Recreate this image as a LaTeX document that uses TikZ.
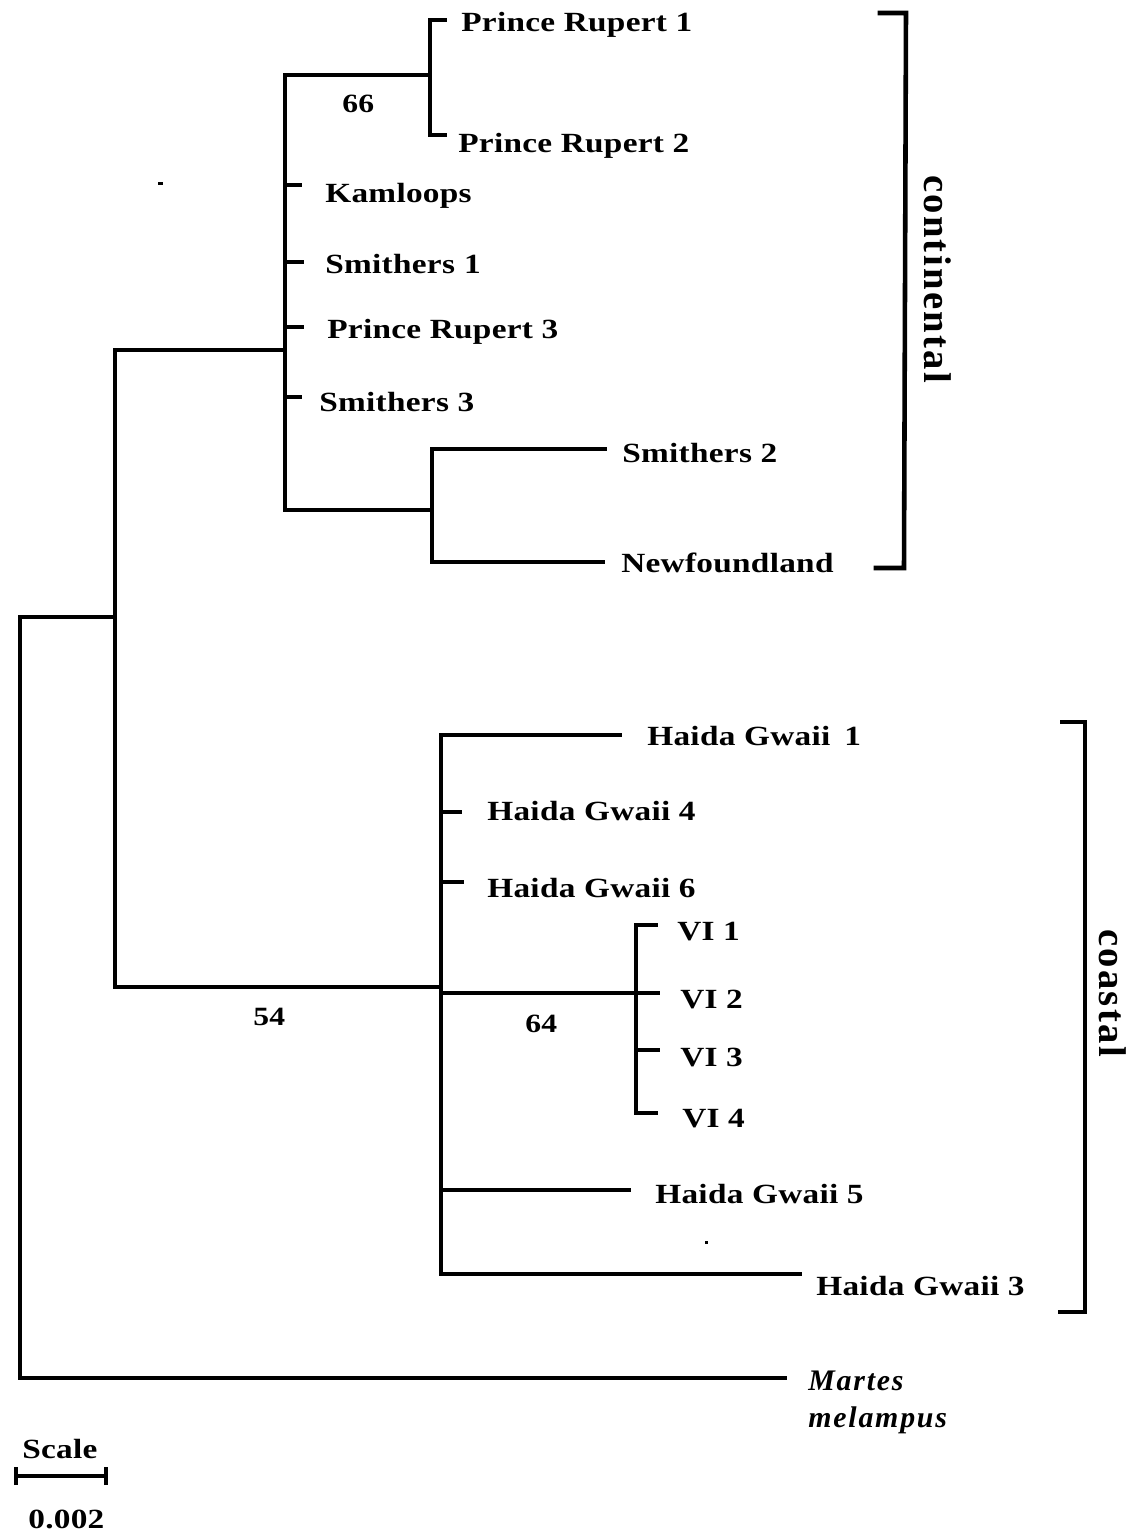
\documentclass[tikz,border=0pt]{standalone}
\usepackage{fontspec}
\setmainfont{Liberation Serif}
\newfontfamily\lsfont[LetterSpace=6]{Liberation Serif}
\newfontfamily\wfont[FakeStretch=1.2,LetterSpace=1]{Liberation Serif}
\begin{document}
\begin{tikzpicture}[x=0.02cm,y=-0.02cm,
  br/.style={line width=2.6pt,line cap=rect},
  lab/.style={anchor=base west,inner sep=0pt,font=\wfont\fontsize{15.8}{19}\selectfont\bfseries},
  sp/.style={anchor=base west,inner sep=0pt,font=\lsfont\fontsize{17}{20}\selectfont\bfseries\itshape},
  sup/.style={anchor=base west,inner sep=0pt,font=\wfont\fontsize{15}{18}\selectfont\bfseries},
  grp/.style={inner sep=0pt,rotate=-90,font=\lsfont\fontsize{22}{25}\selectfont\bfseries}]
\useasboundingbox (0,0) rectangle (1142,1536);
% internal nodes
\coordinate (r) at (20,617);
\coordinate (a) at (115,617);
\coordinate (b) at (285,350);
\coordinate (pr) at (430,75);
\coordinate (sn) at (432,510);
\coordinate (c) at (441,987);
\coordinate (vi) at (636,993);
% tips
\coordinate (tPR1) at (445,20);
\coordinate (tPR2) at (445,135);
\coordinate (tKam) at (300,185);
\coordinate (tSm1) at (302,262);
\coordinate (tPR3) at (302,327);
\coordinate (tSm3) at (300,397);
\coordinate (tSm2) at (605,449);
\coordinate (tNew) at (603,562);
\coordinate (tHG1) at (620,735);
\coordinate (tHG4) at (460,812);
\coordinate (tHG6) at (462,882);
\coordinate (tVI1) at (656,925);
\coordinate (tVI2) at (658,993);
\coordinate (tVI3) at (658,1050);
\coordinate (tVI4) at (656,1113);
\coordinate (tHG5) at (629,1190);
\coordinate (tHG3) at (800,1274);
\coordinate (tMar) at (785,1378);
% tree
\draw[br] (r) -- (r|-tMar) -- (tMar);
\draw[br] (r) -- (a);
\draw[br] (a|-b) -- (a|-c) -- (c);
\draw[br] (a|-b) -- (b);
\draw[br] (b) -- (b|-pr) -- (pr);
\draw[br] (b) -- (b|-sn) -- (sn);
\draw[br] (b|-tKam) -- (tKam);
\draw[br] (b|-tSm1) -- (tSm1);
\draw[br] (b|-tPR3) -- (tPR3);
\draw[br] (b|-tSm3) -- (tSm3);
\draw[br] (tPR1) -- (pr|-tPR1) -- (pr|-tPR2) -- (tPR2);
\draw[br] (sn|-tSm2) -- (sn|-tNew);
\draw[br] (sn|-tSm2) -- (tSm2);
\draw[br] (sn|-tNew) -- (tNew);
\draw[br] (c|-tHG1) -- (c|-tHG3) -- (tHG3);
\draw[br] (c|-tHG1) -- (tHG1);
\draw[br] (c|-tHG4) -- (tHG4);
\draw[br] (c|-tHG6) -- (tHG6);
\draw[br] (c|-vi) -- (tVI2);
\draw[br] (c|-tHG5) -- (tHG5);
\draw[br] (tVI1) -- (vi|-tVI1) -- (vi|-tVI4) -- (tVI4);
\draw[br] (vi|-tVI3) -- (tVI3);
% labels
\node[lab] (nPR1) at (461,31) {Prince Rupert 1};
\node[lab] (nPR2) at (458,152) {Prince Rupert 2};
\node[lab] (nKam) at (325,202) {Kamloops};
\node[lab] (nSm1) at (325,273) {Smithers\,\,1};
\node[lab] (nPR3) at (327,338) {Prince Rupert 3};
\node[lab] (nSm3) at (319,411) {Smithers 3};
\node[lab] (nSm2) at (622,462) {Smithers 2};
\node[lab] (nNew) at (621,572) {Newfoundland};
\node[lab] (nHG1) at (647,745) {Haida Gwaii\hspace{8pt}1};
\node[lab] (nHG4) at (487,820) {Haida Gwaii 4};
\node[lab] (nHG6) at (487,897) {Haida Gwaii 6};
\node[lab] (nVI1) at (677,940) {VI 1};
\node[lab] (nVI2) at (680,1008) {VI 2};
\node[lab] (nVI3) at (680,1066) {VI 3};
\node[lab] (nVI4) at (682,1127) {VI 4};
\node[lab] (nHG5) at (655,1203) {Haida Gwaii 5};
\node[lab] (nHG3) at (816,1295) {Haida Gwaii 3};
\node[sp] (nMar) at (808,1390) {Martes};
\node[sp] (nMel) at (808,1427) {melampus};
% support values
\node[sup] (s66) at (342,112) {66};
\node[sup] (s54) at (253,1025) {54};
\node[sup] (s64) at (525,1032) {64};
% group brackets
\coordinate (ct1) at (880,13);
\coordinate (ct2) at (906,13);
\coordinate (cb2) at (904,568);
\coordinate (cb1) at (876,568);
\draw[br] (ct1) -- (ct2) -- (cb2) -- (cb1);
\node[grp] (ncont) at (938,279) {continental};
\coordinate (kt1) at (1062,722);
\coordinate (kt2) at (1085,722);
\coordinate (kb2) at (1085,1312);
\coordinate (kb1) at (1060,1312);
\draw[br] (kt1) -- (kt2) -- (kb2) -- (kb1);
\node[grp] (ncoast) at (1113,993) {coastal};
% scale bar
\node[lab] (nScale) at (22,1458) {Scale};
\coordinate (s1) at (16,1476);
\coordinate (s2) at (106,1476);
\draw[br,line width=2.2pt] (s1) -- (s2);
\draw[line width=2.4pt] ([yshift=-0.18cm]s1) -- ([yshift=0.18cm]s1);
\draw[line width=2.4pt] ([yshift=-0.18cm]s2) -- ([yshift=0.18cm]s2);
\node[lab] (nScl) at (28,1528) {0.002};
% scan specks
\fill (158,182) rectangle (163,185);
\fill (705,1241) rectangle (708,1244);
\end{tikzpicture}
\end{document}
